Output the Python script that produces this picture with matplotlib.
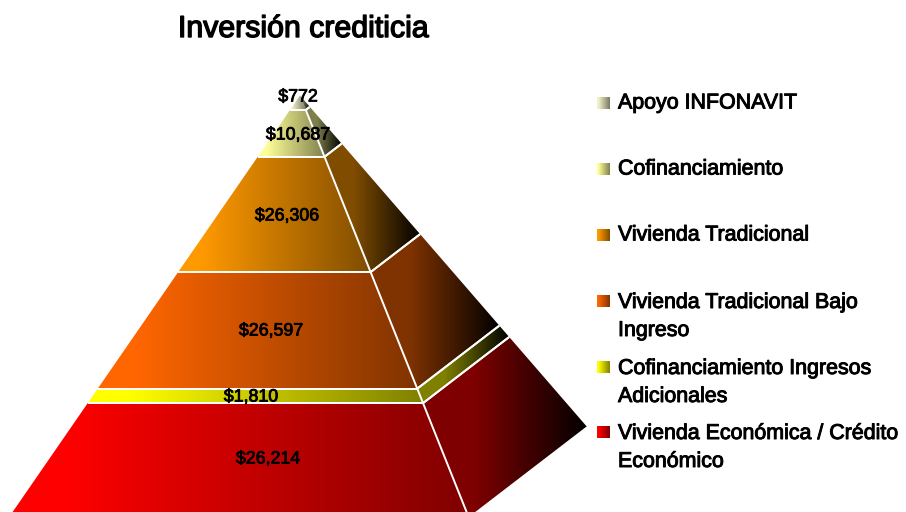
import matplotlib
matplotlib.use('Agg')
import matplotlib.pyplot as plt
import matplotlib.patheffects as pe
from matplotlib.colors import LinearSegmentedColormap
from matplotlib.patches import Polygon
import numpy as np

# top of the pyramid first
categories = ['Apoyo INFONAVIT', 'Cofinanciamiento', 'Vivienda Tradicional',
              'Vivienda Tradicional Bajo\nIngreso', 'Cofinanciamiento Ingresos\nAdicionales',
              'Vivienda Económica / Crédito\nEconómico']
values = [772, 10687, 26306, 26597, 1810, 26214]

colors = ['#F2F2C8', '#FFFF99', '#FF9900', '#FF6600', '#FFFF00', '#FF0000']

# layout, in pixels of the 906x512 picture
apex = (300, 95.5)
frontHeight = 422.5
leftSlope = 0.69
centerSlope = 0.40
rightSlope = 0.68
rightRatio = 0.785
minValue = 3300  # thin slices are drawn thicker, like in the original
labelX = [298, 298, 287, 271, 251, 268]
labelY = [97, 135, 216, 331, 397, 459]
legendY = [103, 169, 235, 301, 367, 432]


def gradientFill(ax, verts, start, stop, hold=0.12):
    xs = [v[0] for v in verts]
    ys = [v[1] for v in verts]
    # colour holds for a short stretch before it starts to fade
    cmap = LinearSegmentedColormap.from_list('g', [(0, start), (hold, start), (1, stop)])
    im = ax.imshow(np.linspace(0, 1, 256).reshape(1, -1), cmap=cmap, aspect='auto',
                   extent=(min(xs), max(xs), max(ys), min(ys)), interpolation='bilinear', zorder=2)
    im.set_clip_path(Polygon(verts, closed=True, transform=ax.transData))


def levelPoints(depth):
    # left, center and right corner of the pyramid at a depth below the apex
    y = apex[1] + depth
    return ((apex[0] - leftSlope * depth, y),
            (apex[0] + centerSlope * depth, y),
            (apex[0] + rightSlope * depth, apex[1] + depth * rightRatio))


def darker(color, amount):
    rgb = np.array(matplotlib.colors.to_rgb(color))
    return tuple(rgb * amount)


def heavy(width):
    # regular face thickened a bit, the original is heavier than regular but not full bold
    return [pe.withStroke(linewidth=width, foreground='black')]


def main():
    fig = plt.figure(figsize=(9.06, 5.12), dpi=100)
    ax = fig.add_axes([0, 0, 1, 1])

    heights = np.maximum(values, minValue).astype(float)
    depths = np.concatenate([[0], np.cumsum(heights)]) / heights.sum() * frontHeight

    for i in range(len(values)):
        topL, topC, topR = levelPoints(depths[i])
        botL, botC, botR = levelPoints(depths[i + 1])
        front = [topL, topC, botC, botL]
        side = [topC, topR, botR, botC]
        gradientFill(ax, front, colors[i], darker(colors[i], 0.5))
        gradientFill(ax, side, darker(colors[i], 0.5), darker(colors[i], 0.0), hold=0.3)
        # white seams
        for a, b in [(topL, topC), (topC, topR), (botL, botC), (botC, botR), (topC, botC)]:
            if i == 0 and a == topL:
                continue
            ax.plot([a[0], b[0]], [a[1], b[1]], color='white', lw=1.4, zorder=3,
                    solid_capstyle='butt')
        ax.text(labelX[i], labelY[i], '${:,}'.format(values[i]), ha='center', va='center',
                fontsize=12.8, family='Liberation Sans', color='black', zorder=4,
                path_effects=heavy(0.6))

        # legend
        gradientFill(ax, [(597, legendY[i] - 6), (610, legendY[i] - 6),
                          (610, legendY[i] + 6), (597, legendY[i] + 6)],
                     colors[i], darker(colors[i], 0.5))
        if '\n' in categories[i]:
            ax.text(618, legendY[i] - 8, categories[i], ha='left', va='top',
                    fontsize=15.4, family='Liberation Sans', linespacing=1.6,
                    color='black', zorder=4, path_effects=heavy(0.7))
        else:
            ax.text(618, legendY[i], categories[i], ha='left', va='center',
                    fontsize=15.4, family='Liberation Sans',
                    color='black', zorder=4, path_effects=heavy(0.7))

    ax.text(303, 29, 'Inversión crediticia', ha='center', va='center', fontsize=21.8,
            family='Liberation Sans', color='black', path_effects=heavy(1.0))

    ax.set_xlim(0, 906)
    ax.set_ylim(512, 0)
    ax.axis('off')
    plt.savefig('out.png', dpi=100)


if __name__ == "__main__":
    main()
